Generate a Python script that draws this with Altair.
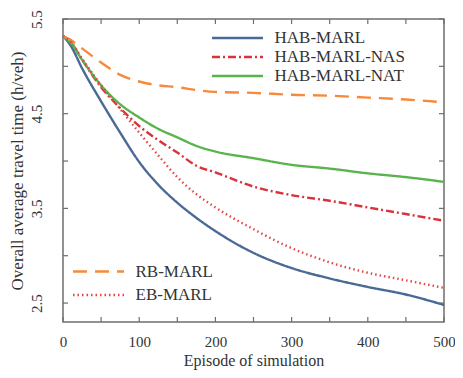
import altair as alt
import pandas as pd

episodes = [0, 10, 25, 50, 75, 100, 125, 150, 175, 200, 250, 300, 350, 400, 450, 500]
hab_marl = [5.32, 5.22, 4.98, 4.63, 4.30, 3.99, 3.75, 3.56, 3.40, 3.26, 3.03, 2.87, 2.76, 2.67, 2.59, 2.48]
hab_nas = [5.32, 5.26, 5.07, 4.78, 4.56, 4.37, 4.22, 4.09, 3.95, 3.88, 3.73, 3.64, 3.58, 3.51, 3.44, 3.37]
hab_nat = [5.32, 5.25, 5.07, 4.80, 4.60, 4.46, 4.34, 4.25, 4.16, 4.10, 4.03, 3.96, 3.92, 3.87, 3.83, 3.78]
rb_marl = [5.32, 5.28, 5.19, 5.04, 4.91, 4.84, 4.80, 4.78, 4.75, 4.73, 4.72, 4.70, 4.69, 4.67, 4.65, 4.62]
eb_marl = [5.32, 5.26, 5.08, 4.80, 4.55, 4.30, 4.06, 3.83, 3.65, 3.51, 3.28, 3.08, 2.93, 2.82, 2.74, 2.66]

main_names = ["HAB-MARL", "HAB-MARL-NAS", "HAB-MARL-NAT"]
base_names = ["RB-MARL", "EB-MARL"]
x_ticks = [0, 50, 100, 150, 200, 250, 300, 350, 400, 450, 500]
x_labels = [0, 100, 200, 300, 400, 500]
y_ticks = [2.5, 3.0, 3.5, 4.0, 4.5, 5.0, 5.5]
y_labels = [2.5, 3.5, 4.5, 5.5]

W, H = 381, 303
FONT = "Liberation Serif"
LINE_SYMBOL = "M-2.833,0H2.833"


def long(names, arrays):
    rows = []
    for n, arr in zip(names, arrays):
        for e, v in zip(episodes, arr):
            rows.append({"episode": e, "value": v, "series": n})
    return pd.DataFrame(rows)


df_main = long(main_names, [hab_marl, hab_nas, hab_nat])
df_base = long(base_names, [rb_marl, eb_marl])

xs = alt.Scale(domain=[0, 500], nice=False)
ys = alt.Scale(domain=[2.3, 5.5], nice=False)

x_axis = alt.Axis(values=x_labels, title="Episode of  simulation", grid=False, ticks=False,
                  domain=False, labelFlush=False, labelOverlap=False, labelPadding=12,
                  titlePadding=3, titleFontSize=16)
y_axis = alt.Axis(values=y_labels, title="Overall average travel time (h/veh)", grid=False,
                  ticks=False, domain=False, format=".1f", labelAngle=270, labelAlign="center",
                  labelBaseline="bottom", labelPadding=19, titlePadding=3)


def legend(lx, ly, rowpad):
    return alt.Legend(title=None, orient="none", legendX=lx, legendY=ly, padding=0,
                      symbolType=LINE_SYMBOL, symbolSize=324, symbolStrokeWidth=2.5,
                      rowPadding=rowpad, labelFont=FONT, labelFontSize=17,
                      labelColor="#333333", labelOffset=26.5)


main = alt.Chart(df_main).mark_line(interpolate="monotone").encode(
    x=alt.X("episode:Q", scale=xs, axis=x_axis),
    y=alt.Y("value:Q", scale=ys, axis=y_axis),
    color=alt.Color("series:N", scale=alt.Scale(domain=main_names,
                    range=["#4a6a96", "#d8323c", "#5ab44e"]),
                    legend=legend(164, 8.5, 0)),
    strokeDash=alt.StrokeDash("series:N", scale=alt.Scale(domain=main_names,
                              range=[[1, 0], [8, 3, 2, 3], [1, 0]]), legend=None),
    strokeWidth=alt.value(2.4),
)

base = alt.Chart(df_base).mark_line(interpolate="monotone").encode(
    x=alt.X("episode:Q", scale=xs, axis=x_axis),
    y=alt.Y("value:Q", scale=ys, axis=y_axis),
    color=alt.Color("series:N", scale=alt.Scale(domain=base_names,
                    range=["#f7893a", "#e74444"]),
                    legend=legend(25, 242, 4.5)),
    strokeDash=alt.StrokeDash("series:N", scale=alt.Scale(domain=base_names,
                              range=[[14, 8], [1.5, 3]]), legend=None),
    strokeWidth=alt.value(2.4),
)

xt = pd.DataFrame({"v": x_ticks})
yt = pd.DataFrame({"v": y_ticks})
tick_style = dict(color="#6e6e6e", strokeWidth=1.2)

bt = alt.Chart(xt).mark_rule(**tick_style).encode(
    x=alt.X("v:Q", scale=xs, axis=x_axis), y=alt.value(H), y2=alt.value(H - 5))
tt = alt.Chart(xt).mark_rule(**tick_style).encode(
    x=alt.X("v:Q", scale=xs, axis=x_axis), y=alt.value(0), y2=alt.value(5))
lt = alt.Chart(yt).mark_rule(**tick_style).encode(
    y=alt.Y("v:Q", scale=ys, axis=y_axis), x=alt.value(0), x2=alt.value(5))
rt = alt.Chart(yt).mark_rule(**tick_style).encode(
    y=alt.Y("v:Q", scale=ys, axis=y_axis), x=alt.value(W), x2=alt.value(W - 5))

chart = alt.layer(main, base, bt, tt, lt, rt).resolve_scale(
    color="independent", strokeDash="independent"
).properties(
    width=W, height=H,
    autosize=alt.AutoSizeParams(type="none"),
    padding={"left": 55, "top": 11, "right": 11, "bottom": 48},
).configure_view(
    stroke="#6e6e6e", strokeWidth=1.5
).configure_axis(
    labelFont=FONT, labelFontSize=15, labelColor="#333333",
    titleFont=FONT, titleFontSize=17, titleFontWeight="normal", titleColor="#333333",
)

chart.save("out.html", embed_options={"renderer": "svg", "actions": False})
